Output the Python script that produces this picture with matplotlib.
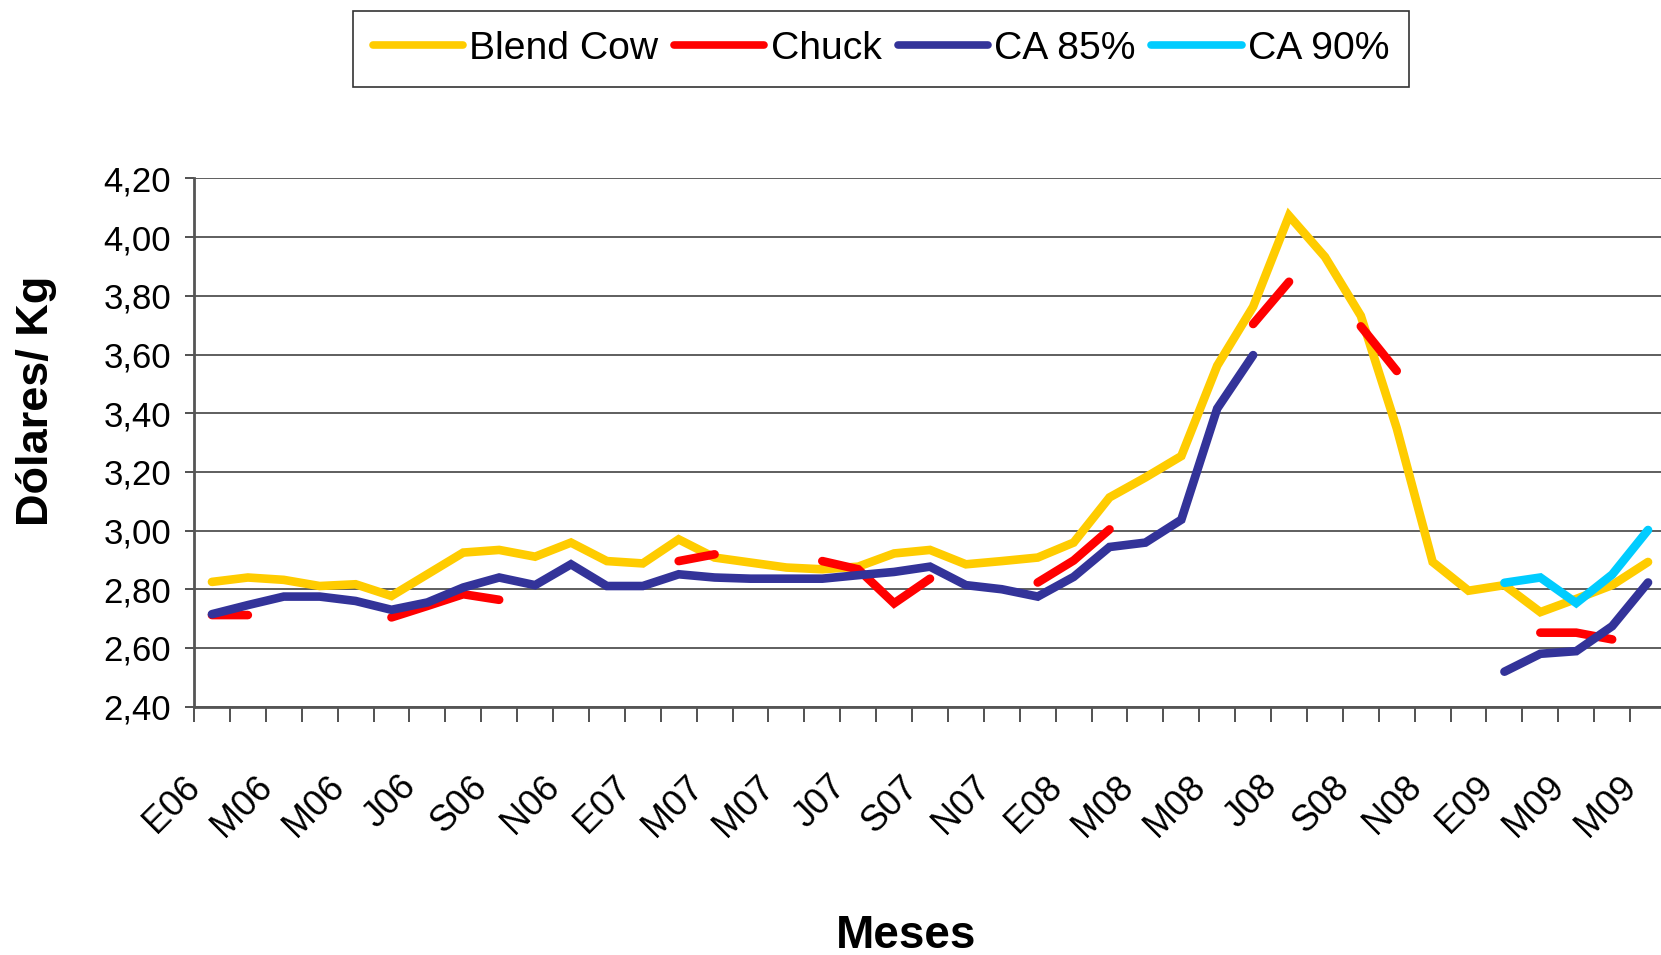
import numpy as np
import matplotlib
matplotlib.use('Agg')
import matplotlib.pyplot as plt
from matplotlib.ticker import FixedLocator, FuncFormatter
from matplotlib.transforms import ScaledTranslation

plt.rcParams['font.family'] = ['Liberation Sans', 'DejaVu Sans']

nan = np.nan

# Precios mensuales (Dólares/Kg), enero 2006 a mayo 2009
blend_cow = [2.825, 2.840, 2.832, 2.811, 2.817, 2.777, 2.851, 2.925, 2.934, 2.911,
             2.959, 2.896, 2.888, 2.970, 2.908, 2.891, 2.874, 2.868, 2.877, 2.922,
             2.934, 2.885, 2.896, 2.908, 2.959, 3.113, 3.181, 3.254, 3.562, 3.763,
             4.073, 3.933, 3.732, 3.349, 2.893, 2.795, 2.814, 2.722, 2.767, 2.814,
             2.893]
chuck = [2.712, 2.712, nan, nan, nan, 2.704, 2.743, 2.783, 2.764, nan,
         nan, nan, nan, 2.896, 2.919, nan, nan, 2.896, 2.868, 2.752,
         2.836, nan, nan, 2.823, 2.898, 3.004, nan, nan, nan, 3.704,
         3.848, nan, 3.696, 3.544, nan, nan, nan, 2.652, 2.652, 2.629,
         nan]
ca85 = [2.715, 2.746, 2.775, 2.775, 2.760, 2.730, 2.755, 2.806, 2.840, 2.814,
        2.885, 2.811, 2.811, 2.851, 2.840, 2.836, 2.836, 2.836, 2.848, 2.859,
        2.877, 2.814, 2.800, 2.775, 2.842, 2.944, 2.959, 3.037, 3.416, 3.598,
        nan, nan, nan, nan, nan, nan, 2.519, 2.580, 2.589, 2.674,
        2.823]
ca90 = [nan] * 36 + [2.822, 2.840, 2.753, 2.850, 3.002]

etiquetas = ['E06', 'M06', 'M06', 'J06', 'S06', 'N06', 'E07', 'M07', 'M07', 'J07',
             'S07', 'N07', 'E08', 'M08', 'M08', 'J08', 'S08', 'N08', 'E09', 'M09',
             'M09']

series = [
    ('Blend Cow', blend_cow, '#FFCC00'),
    ('Chuck', chuck, '#FF0000'),
    ('CA 85%', ca85, '#333399'),
    ('CA 90%', ca90, '#00CCFF'),
]

W, H = 1661, 955
fig = plt.figure(figsize=(W / 100, H / 100), dpi=100)
ax = fig.add_axes([194 / W, 1 - 706.6 / H, 1472 / W, (706.6 - 178.5) / H])

x = np.arange(len(blend_cow))
for nombre, valores, color in series:
    ax.plot(x, valores, color=color, lw=6.2, label=nombre,
            solid_capstyle='round', solid_joinstyle='miter')

ax.set_xlim(-0.5, len(x) - 0.5)
ax.set_ylim(2.4, 4.2)

# eje y
yt = np.arange(2.4, 4.2001, 0.2)
ax.yaxis.set_major_locator(FixedLocator(yt))
ax.yaxis.set_major_formatter(FuncFormatter(lambda v, p: f"{v:.2f}".replace('.', ',')))
ax.tick_params(axis='y', direction='out', length=6.5, width=1.2, color='#333333',
               labelsize=25, pad=10)
ax.grid(True, axis='y', color='#5e5e5e', lw=1.4)

# eje x
ax.set_xticks(np.arange(0, len(x), 2))
ax.set_xticklabels(etiquetas)
ax.xaxis.set_minor_locator(FixedLocator(np.arange(-0.5, len(x), 1.0)))
ax.tick_params(axis='x', which='major', length=0, labelsize=26, pad=54)
ax.tick_params(axis='x', which='minor', direction='out', length=11, width=1.2,
               color='#333333')
desplaza = ScaledTranslation(-17 / 100, 0, fig.dpi_scale_trans)
for lab in ax.get_xticklabels():
    lab.set_rotation(45)
    lab.set_ha('right')
    lab.set_va('center')
    lab.set_rotation_mode('anchor')
    lab.set_transform(lab.get_transform() + desplaza)

for lado in ['top', 'right']:
    ax.spines[lado].set_visible(False)
for lado in ['left', 'bottom']:
    ax.spines[lado].set_color('#555555')
    ax.spines[lado].set_linewidth(2)

ax.set_ylabel('Dólares/ Kg', fontsize=32.5, fontweight='bold')
ax.yaxis.set_label_coords(-0.093, 0.579)
ax.set_xlabel('Meses', fontsize=33, fontweight='bold')
ax.xaxis.set_label_coords(0.484, -0.392)

leg = fig.legend(loc='center', bbox_to_anchor=(881 / W, 1 - 49 / H), ncol=4,
                 prop={'size': 28.2},
                 handlelength=2.3, handletextpad=0.16, columnspacing=0.41,
                 borderpad=0.5, borderaxespad=0, fancybox=False, frameon=True)
leg.get_frame().set_edgecolor('black')
leg.get_frame().set_linewidth(1.2)
for linea in leg.get_lines():
    linea.set_linewidth(5.5)

fig.savefig('out.png', dpi=100)
